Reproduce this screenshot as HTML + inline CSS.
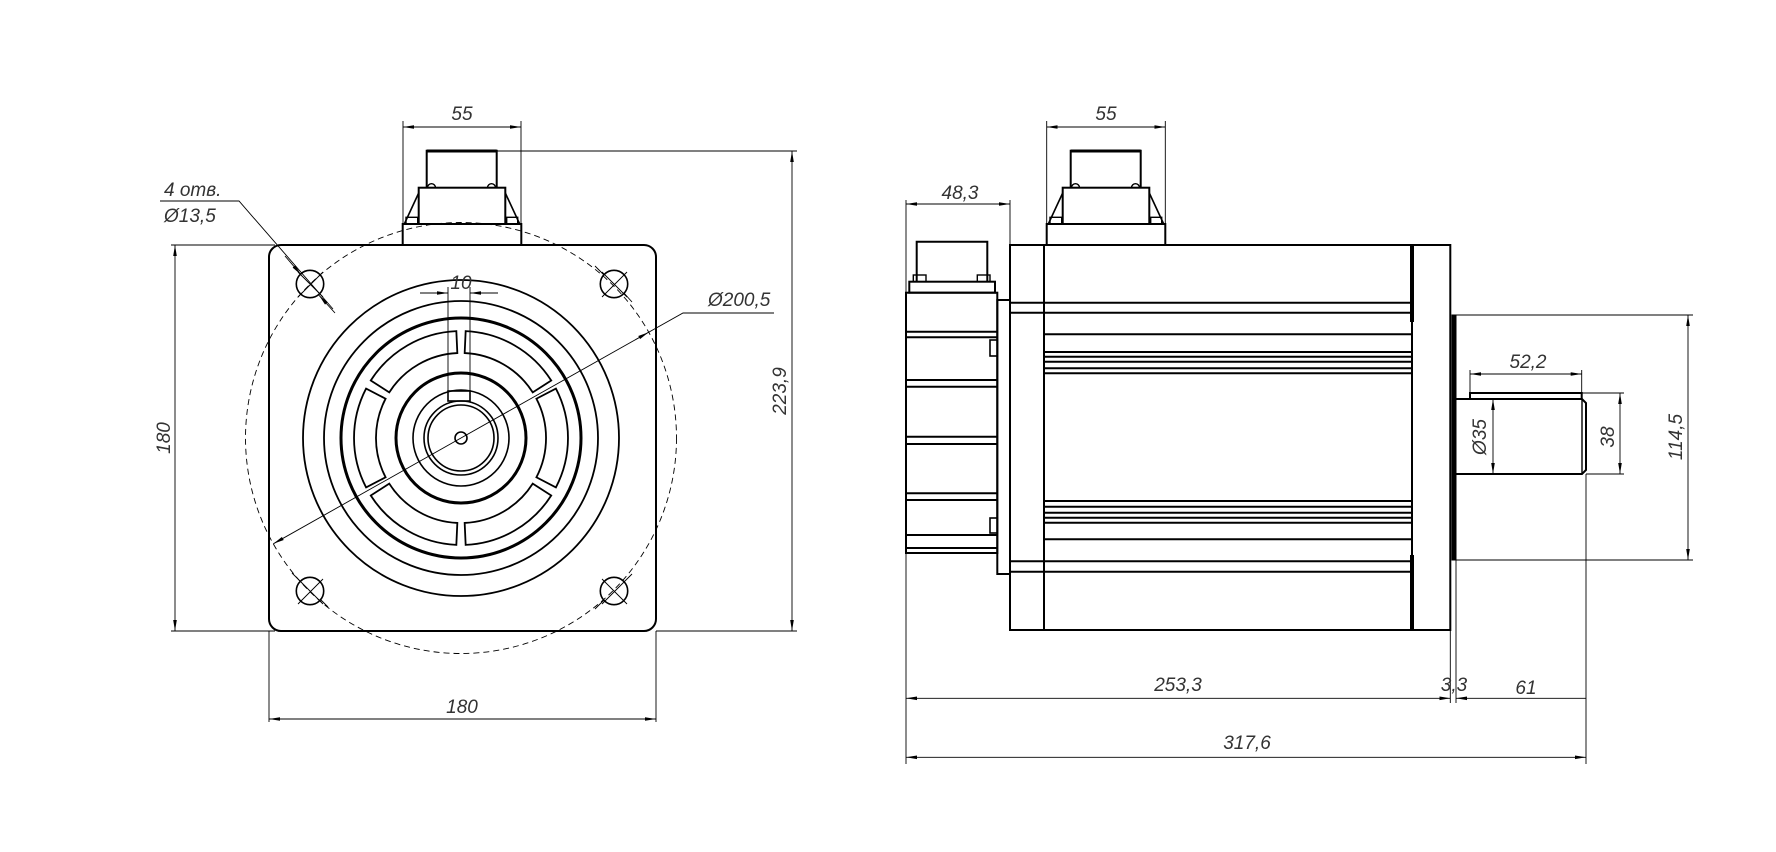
<!DOCTYPE html>
<html><head><meta charset="utf-8"><style>
html,body{margin:0;padding:0;background:#fff;}
svg{display:block;}
text{font-family:"Liberation Sans",sans-serif;font-style:italic;font-size:19px;fill:#333;}
</style></head><body>
<svg width="1776" height="852" viewBox="0 0 1776 852" xmlns="http://www.w3.org/2000/svg">
<defs>
<marker id="a" markerUnits="userSpaceOnUse" markerWidth="12" markerHeight="6" refX="11" refY="3" orient="auto-start-reverse">
<path d="M0,1.2 L11,3 L0,4.8 Z" fill="#000"/></marker>
<g id="conn">
<rect x="1046.7" y="224" width="118.6" height="21" fill="none" stroke="#000" stroke-width="2"/>
<rect x="1062.7" y="187.7" width="86.6" height="36.3" fill="none" stroke="#000" stroke-width="2"/>
<line x1="1048.3" y1="224" x2="1062.7" y2="193" stroke="#000" stroke-width="1.6"/>
<line x1="1163.7" y1="224" x2="1149.3" y2="193" stroke="#000" stroke-width="1.6"/>
<rect x="1050" y="217.3" width="11.7" height="6.7" fill="none" stroke="#000" stroke-width="1.4"/>
<rect x="1150.7" y="217.3" width="11" height="6.7" fill="none" stroke="#000" stroke-width="1.4"/>
<path d="M1070.7,187.7 V150.7 H1140.7 V187.7" fill="none" stroke="#000" stroke-width="2"/>
<line x1="1070.7" y1="151" x2="1140.7" y2="151" stroke="#000" stroke-width="3"/>
<path d="M1071.5,187.7 a4,4 0 0 1 8,0 M1131.5,187.7 a4,4 0 0 1 8,0" fill="none" stroke="#000" stroke-width="1.4"/>
</g>
</defs>

<!-- ============ LEFT VIEW ============ -->
<g fill="none" stroke="#000">
<rect x="269" y="245" width="387" height="386" rx="12" stroke-width="2"/>
<use href="#conn" transform="translate(-644,0)"/>
<circle cx="461" cy="438" r="215.5" stroke-width="0.9" stroke-dasharray="6,4"/>
<!-- holes -->
<g stroke-width="1.6">
<circle cx="310" cy="284" r="13.7"/><circle cx="614" cy="284" r="13.7"/>
<circle cx="310" cy="591" r="13.7"/><circle cx="614" cy="591" r="13.7"/>
</g>
<g stroke-width="0.9">
<path d="M298,272 L323,297 M323,272 L298,297"/>
<path d="M602,272 L627,297 M627,272 L602,297 M595,266 L604,275 M624,293 L632,302"/>
<path d="M298,579 L323,604 M323,579 L298,604 M292,573 L301,582 M320,599 L328,607"/>
<path d="M602,579 L627,604 M627,579 L602,604 M595,609 L604,600 M624,582 L632,574"/>
</g>
<!-- concentric -->
<circle cx="461" cy="438" r="158" stroke-width="1.8"/>
<circle cx="461" cy="438" r="137" stroke-width="1.8"/>
<circle cx="461" cy="438" r="120" stroke-width="3"/>
<circle cx="461" cy="438" r="65" stroke-width="3"/>
<circle cx="461" cy="438" r="48" stroke-width="1.6"/>
<circle cx="461" cy="438" r="37" stroke-width="1.6"/>
<circle cx="461" cy="438" r="33" stroke-width="1.6"/>
<circle cx="461" cy="438" r="6" stroke-width="1.6"/>
<!-- slots -->
<g stroke-width="1.8">
<path id="slot" d="M555.9,388.6 A107,107 0 0 1 555.9,487.4 L536.4,477.3 A85,85 0 0 0 536.4,398.7 Z"/>
<use href="#slot" transform="rotate(60 461 438)"/>
<use href="#slot" transform="rotate(120 461 438)"/>
<use href="#slot" transform="rotate(180 461 438)"/>
<use href="#slot" transform="rotate(240 461 438)"/>
<use href="#slot" transform="rotate(300 461 438)"/>
</g>
<!-- key -->
<rect x="448" y="391" width="22" height="10" stroke-width="1.6"/>
<g stroke-width="0.9">
<line x1="448" y1="287" x2="448" y2="391"/><line x1="470" y1="287" x2="470" y2="391"/>
<line x1="420" y1="293" x2="448" y2="293" marker-end="url(#a)"/>
<line x1="498" y1="293" x2="470" y2="293" marker-end="url(#a)"/>
<!-- Ø200,5 -->
<line x1="461" y1="438" x2="273.3" y2="543.8" marker-end="url(#a)"/>
<line x1="461" y1="438" x2="648.7" y2="332.2" marker-end="url(#a)"/>
<polyline points="648,332.6 683,313 774,313"/>
<!-- 4 отв -->
<polyline points="160,201 239,201 333,309"/>
<line x1="285" y1="256" x2="301" y2="274.7" marker-end="url(#a)"/>
<line x1="335" y1="313" x2="319" y2="295.3" marker-end="url(#a)"/>
<!-- 55 -->
<line x1="403" y1="121" x2="403" y2="224"/><line x1="521" y1="121" x2="521" y2="245"/>
<line x1="403" y1="127" x2="521" y2="127" marker-start="url(#a)" marker-end="url(#a)"/>
<!-- 223,9 -->
<line x1="497" y1="151" x2="797" y2="151"/><line x1="656" y1="631" x2="797" y2="631"/>
<line x1="792" y1="151" x2="792" y2="631" marker-start="url(#a)" marker-end="url(#a)"/>
<!-- 180 v -->
<line x1="171" y1="245" x2="275" y2="245"/><line x1="171" y1="631" x2="275" y2="631"/>
<line x1="175" y1="245" x2="175" y2="631" marker-start="url(#a)" marker-end="url(#a)"/>
<!-- 180 h -->
<line x1="269" y1="631" x2="269" y2="722"/><line x1="656" y1="631" x2="656" y2="722"/>
<line x1="269" y1="719" x2="656" y2="719" marker-start="url(#a)" marker-end="url(#a)"/>
</g>
</g>
<text x="461" y="289" text-anchor="middle">10</text>
<text x="462" y="120" text-anchor="middle">55</text>
<text x="708" y="306">Ø200,5</text>
<text x="164" y="196">4 отв.</text>
<text x="164" y="222">Ø13,5</text>
<text x="462" y="713" text-anchor="middle">180</text>
<text transform="translate(170,438) rotate(-90)" text-anchor="middle">180</text>
<text transform="translate(786,391) rotate(-90)" text-anchor="middle">223,9</text>

<!-- ============ RIGHT VIEW ============ -->
<g fill="none" stroke="#000" stroke-width="2">
<use href="#conn"/>
<!-- body -->
<rect x="1010" y="245" width="440.3" height="385"/>
<line x1="1044" y1="245" x2="1044" y2="630"/>
<line x1="1412" y1="245" x2="1412" y2="630"/>
<line x1="1412" y1="245" x2="1412" y2="322" stroke-width="4"/>
<line x1="1412" y1="555" x2="1412" y2="630" stroke-width="4"/>
<path d="M1010,302.7 H1412 M1010,312.7 H1412 M1044,334.3 H1412 M1044,352 H1412 M1044,356.7 H1412 M1044,361.7 H1412 M1044,368.3 H1412 M1044,373.3 H1412"/>
<path d="M1044,501 H1412 M1044,506.7 H1412 M1044,512.7 H1412 M1044,517.7 H1412 M1044,522.7 H1412 M1044,539.3 H1412 M1010,561.3 H1412 M1010,571.7 H1412"/>
<!-- back flange -->
<rect x="997.3" y="300" width="12.7" height="274"/>
<!-- encoder -->
<rect x="906" y="292.7" width="91.3" height="260.3"/>
<path d="M906,331.7 H997 M906,337.3 H997 M906,380 H997 M906,386.7 H997 M906,436.7 H997 M906,444 H997 M906,493.3 H997 M906,500 H997 M906,535 H997 M906,548 H997"/>
<rect x="990" y="340" width="7.3" height="16" stroke-width="1.6"/>
<rect x="990" y="518" width="7.3" height="15" stroke-width="1.6"/>
<rect x="909.3" y="281.7" width="85.7" height="11"/>
<path d="M916.7,281.7 V241.7 H987.3 V281.7"/>
<rect x="913.3" y="275" width="12.7" height="6.7" stroke-width="1.4"/>
<rect x="977.3" y="275" width="12.7" height="6.7" stroke-width="1.4"/>
<!-- front flange -->
<rect x="1452" y="315" width="4" height="245" fill="#000" stroke-width="1"/>
<!-- shaft -->
<path d="M1456,399 H1582 L1586,403 V470 L1582,474 H1456"/>
<line x1="1582" y1="399" x2="1582" y2="474" stroke-width="1.4"/>
<rect x="1470" y="393" width="111.7" height="6"/>
</g>
<g fill="none" stroke="#000" stroke-width="0.9">
<!-- 55 -->
<line x1="1046.7" y1="121" x2="1046.7" y2="224"/><line x1="1165.3" y1="121" x2="1165.3" y2="224"/>
<line x1="1046.7" y1="127" x2="1165.3" y2="127" marker-start="url(#a)" marker-end="url(#a)"/>
<!-- 48,3 -->
<line x1="906" y1="200" x2="906" y2="764"/><line x1="1010" y1="200" x2="1010" y2="245"/>
<line x1="906" y1="204" x2="1010" y2="204" marker-start="url(#a)" marker-end="url(#a)"/>
<!-- 52,2 -->
<line x1="1470" y1="370" x2="1470" y2="393"/><line x1="1581.7" y1="370" x2="1581.7" y2="393"/>
<line x1="1470" y1="374" x2="1581.7" y2="374" marker-start="url(#a)" marker-end="url(#a)"/>
<!-- Ø35 -->
<line x1="1493" y1="399" x2="1493" y2="474" marker-start="url(#a)" marker-end="url(#a)"/>
<!-- 38 -->
<line x1="1582" y1="393" x2="1624" y2="393"/><line x1="1586" y1="474" x2="1624" y2="474"/>
<line x1="1620" y1="393" x2="1620" y2="474" marker-start="url(#a)" marker-end="url(#a)"/>
<!-- 114,5 -->
<line x1="1456" y1="315" x2="1693" y2="315"/><line x1="1456" y1="560" x2="1693" y2="560"/>
<line x1="1688" y1="315" x2="1688" y2="560" marker-start="url(#a)" marker-end="url(#a)"/>
<!-- bottom dims -->
<line x1="1450.3" y1="630" x2="1450.3" y2="703"/>
<line x1="1456" y1="560" x2="1456" y2="703"/>
<line x1="1586" y1="474" x2="1586" y2="764"/>
<line x1="906" y1="698.3" x2="1450.3" y2="698.3" marker-start="url(#a)" marker-end="url(#a)"/>
<line x1="1586" y1="698.3" x2="1456" y2="698.3" marker-end="url(#a)"/>
<line x1="906" y1="757.3" x2="1586" y2="757.3" marker-start="url(#a)" marker-end="url(#a)"/>
</g>
<text x="1106" y="120" text-anchor="middle">55</text>
<text x="960" y="199" text-anchor="middle">48,3</text>
<text x="1528" y="368" text-anchor="middle">52,2</text>
<text transform="translate(1486,437) rotate(-90)" text-anchor="middle">Ø35</text>
<text transform="translate(1614,437) rotate(-90)" text-anchor="middle">38</text>
<text transform="translate(1682,437) rotate(-90)" text-anchor="middle">114,5</text>
<text x="1178" y="691" text-anchor="middle">253,3</text>
<text x="1454" y="691" text-anchor="middle">3,3</text>
<text x="1526" y="694" text-anchor="middle">61</text>
<text x="1247" y="749" text-anchor="middle">317,6</text>
</svg>
</body></html>
